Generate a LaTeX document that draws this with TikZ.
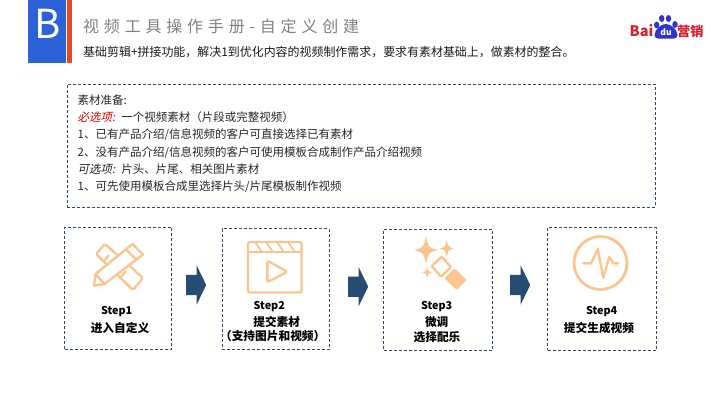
\documentclass[tikz,border=0pt]{standalone}
\usepackage{fontspec}
\setmainfont{Noto Sans CJK SC}
\newfontfamily\slantfont[FakeSlant=0.2]{Noto Sans CJK SC}
\newfontfamily\titlefont[LetterSpace=30]{Noto Sans CJK SC}
\usetikzlibrary{shapes.arrows}

\definecolor{dashblue}{HTML}{2F4A6E}
\definecolor{arrowblue}{HTML}{264C73}
\definecolor{iconorange}{HTML}{FBC58F}
\definecolor{tabblue}{HTML}{2C62D8}
\definecolor{tabred}{HTML}{E8492A}
\definecolor{logored}{HTML}{D5202C}
\definecolor{logoblue}{HTML}{2F35C8}

\begin{document}
\begin{tikzpicture}[x=1pt,y=-1pt,line join=round]

  \tikzstyle{dashbox}=[draw=dashblue,line width=0.7pt,dash pattern=on 3pt off 2pt,
                       anchor=north west,inner sep=0pt]
  \tikzstyle{blockarrow}=[single arrow,fill=arrowblue,anchor=west,inner xsep=0pt,inner ysep=10pt,
                          minimum height=20pt,single arrow head extend=9.5pt,single arrow tip angle=128]
  \tikzstyle{steptext}=[font=\fontsize{10.8}{14}\selectfont\bfseries,inner sep=0pt,text=black,yshift=-1pt]
  \tikzstyle{stepcjk}=[font=\fontsize{11.7}{14}\selectfont\bfseries,inner sep=0pt,text=black,yshift=-1pt]
  \tikzstyle{listline}=[font=\fontsize{11.5}{13}\selectfont,anchor=west,inner sep=0pt,text=black!85]
  \tikzstyle{icon}=[draw=iconorange,line width=2.4pt]

  \useasboundingbox (0,0) rectangle (720,405);

  % header
  \node[fill=tabblue,minimum width=38pt,minimum height=63pt,inner sep=0pt,anchor=north west] (TAB) at (28,0) {};
  \node[inner sep=0pt,text=white,font=\fontsize{40}{40}\selectfont] (BLT) at (47.5,24) {B};
  \node[fill=tabred,minimum width=4.5pt,minimum height=63pt,inner sep=0pt,anchor=north west] (BAR) at (67,0) {};
  \node[anchor=west,inner sep=0pt,text=black!50,font=\fontsize{16}{18}\titlefont] (TTL) at (83,26.5)
    {视频工具操作手册-自定义创建};
  \node[listline,font=\fontsize{11.95}{13}\selectfont,text=black!90] (SUB) at (83,52)
    {基础剪辑+拼接功能，解决1到优化内容的视频制作需求，要求有素材基础上，做素材的整合。};

  % logo
  \node[anchor=west,inner sep=0pt,text=logored,font=\fontsize{14.5}{16}\selectfont\bfseries] (BAI) at (629.5,31) {Bai};
  \node[anchor=west,inner sep=0pt,text=logored,font=\fontsize{13.2}{14}\selectfont\bfseries] (YX) at (677,31) {营销};
  \foreach \px/\py/\pa/\pb in {656.7/25/2.7/3.4,661.7/18.5/2.7/3.5,668.5/18.5/2.7/3.5,675/24.5/2.7/3.4}
    \fill[logoblue] (\px,\py) ellipse [x radius=\pa,y radius=\pb];
  \fill[logoblue] (654.5,35) .. controls (655,29) and (661,24) .. (665.8,24)
    .. controls (671,24) and (677,29) .. (677.5,35)
    .. controls (677.5,40) and (671,38.5) .. (666,38.5)
    .. controls (661,38.5) and (654.5,40) .. (654.5,35) -- cycle;
  \node[inner sep=0pt,text=white,font=\fontsize{8.5}{9}\selectfont\bfseries] (DU) at (666,32.5) {du};

  % material box
  \node[dashbox,minimum width=588pt,minimum height=123pt] (MAT) at (67,84) {};
  \node[listline] (L1) at (77.5,100)   {素材准备:};
  \node[listline] (L2) at (77.5,117.3) {{\slantfont\textcolor{red!85!black}{必选项:}}\hspace{6pt}一个视频素材（片段或完整视频）};
  \node[listline] (L3) at (77.5,135)   {1、已有产品介绍/信息视频的客户可直接选择已有素材};
  \node[listline] (L4) at (77.5,152.3) {2、没有产品介绍/信息视频的客户可使用模板合成制作产品介绍视频};
  \node[listline] (L5) at (77.5,169.3) {{\slantfont 可选项:}\hspace{6pt}片头、片尾、相关图片素材};
  \node[listline] (L6) at (77.5,186.7) {1、可先使用模板合成里选择片头/片尾模板制作视频};

  % step boxes
  \node[dashbox,minimum width=107pt,minimum height=122pt]   (S1) at (64.2,227) {};
  \node[dashbox,minimum width=107pt,minimum height=121pt]   (S2) at (221.5,228.3) {};
  \node[dashbox,minimum width=108.4pt,minimum height=121.3pt] (S3) at (383.2,228.7) {};
  \node[dashbox,minimum width=108.7pt,minimum height=122.2pt] (S4) at (547.2,227.3) {};

  \node[blockarrow] (A1) at (186,285) {};
  \node[blockarrow] (A2) at (348,286.7) {};
  \node[blockarrow] (A3) at (510,285) {};

  \node[steptext] (T1a) at (116.7,310.7) {Step1};
  \node[stepcjk]  (T1b) at (120,327.3)   {进入自定义};
  \node[steptext] (T2a) at (269.3,306)   {Step2};
  \node[stepcjk]  (T2b) at (276.7,320.7) {提交素材};
  \node[stepcjk]  (T2c) at (272.7,334.7) {（支持图片和视频）};
  \node[steptext] (T3a) at (436.7,305.3) {Step3};
  \node[stepcjk]  (T3b) at (436.7,320.7) {微调};
  \node[stepcjk]  (T3c) at (437,336)     {选择配乐};
  \node[steptext] (T4a) at (601.7,310.7) {Step4};
  \node[stepcjk]  (T4b) at (599,326.7)   {提交生成视频};

  % icon step1
  \draw[icon,rounded corners=1.5pt] (96,254) -- (105,244) -- (143,278) -- (133,290) -- cycle;
  \draw[icon] (104,261) -- (109,255) (121,277) -- (126,271);
  \draw[icon,fill=white] (94,285.5) -- (95.5,274) -- (132.5,244) -- (143,254.5) -- (104.5,284) -- cycle;
  \draw[icon] (95.5,274) -- (104.5,284) (126,249.5) -- (136.5,260);

  % icon step2
  \draw[icon,rounded corners=2pt] (248,242) rectangle (301.5,292.5);
  \draw[icon] (248,252) -- (301.5,252);
  \foreach \sx in {255,266,277,288}
    \draw[draw=iconorange,line width=1.8pt] (\sx,242) -- (\sx+7,252);
  \draw[icon,rounded corners=2pt] (267.3,260.7) -- (267.3,282.3) -- (287.3,271.7) -- cycle;

  % icon step3
  \foreach \cx/\cy/\ra/\rb/\rc in {426/250/13.5/12/2.5,446.7/248.5/8.5/7/1.6,427.3/272.3/5.7/5/1.1}
    \fill[iconorange] (\cx,\cy-\ra) .. controls (\cx+\rc,\cy-\rc) and (\cx+\rc,\cy-\rc) .. (\cx+\rb,\cy)
      .. controls (\cx+\rc,\cy+\rc) and (\cx+\rc,\cy+\rc) .. (\cx,\cy+\ra)
      .. controls (\cx-\rc,\cy+\rc) and (\cx-\rc,\cy+\rc) .. (\cx-\rb,\cy)
      .. controls (\cx-\rc,\cy-\rc) and (\cx-\rc,\cy-\rc) .. (\cx,\cy-\ra) -- cycle;
  \draw[icon,rounded corners=1pt] (431.7,266) -- (441.7,256.7) -- (451,267) -- (441,276.7) -- cycle;
  \fill[iconorange,rounded corners=2pt] (444.3,278.3) -- (454.3,268.3) -- (466.7,280) -- (456.7,290) -- cycle;

  % icon step4
  \node[icon,line width=2.8pt,circle,minimum size=53pt,inner sep=0pt] (RING) at (600.5,263) {};
  \draw[icon,line cap=round] (583.3,263.3) -- (591,263.3) -- (597.7,249) -- (603.3,277.7) -- (609.3,256.7) -- (613.3,263.3) -- (618.3,263.3);

\end{tikzpicture}
\end{document}
